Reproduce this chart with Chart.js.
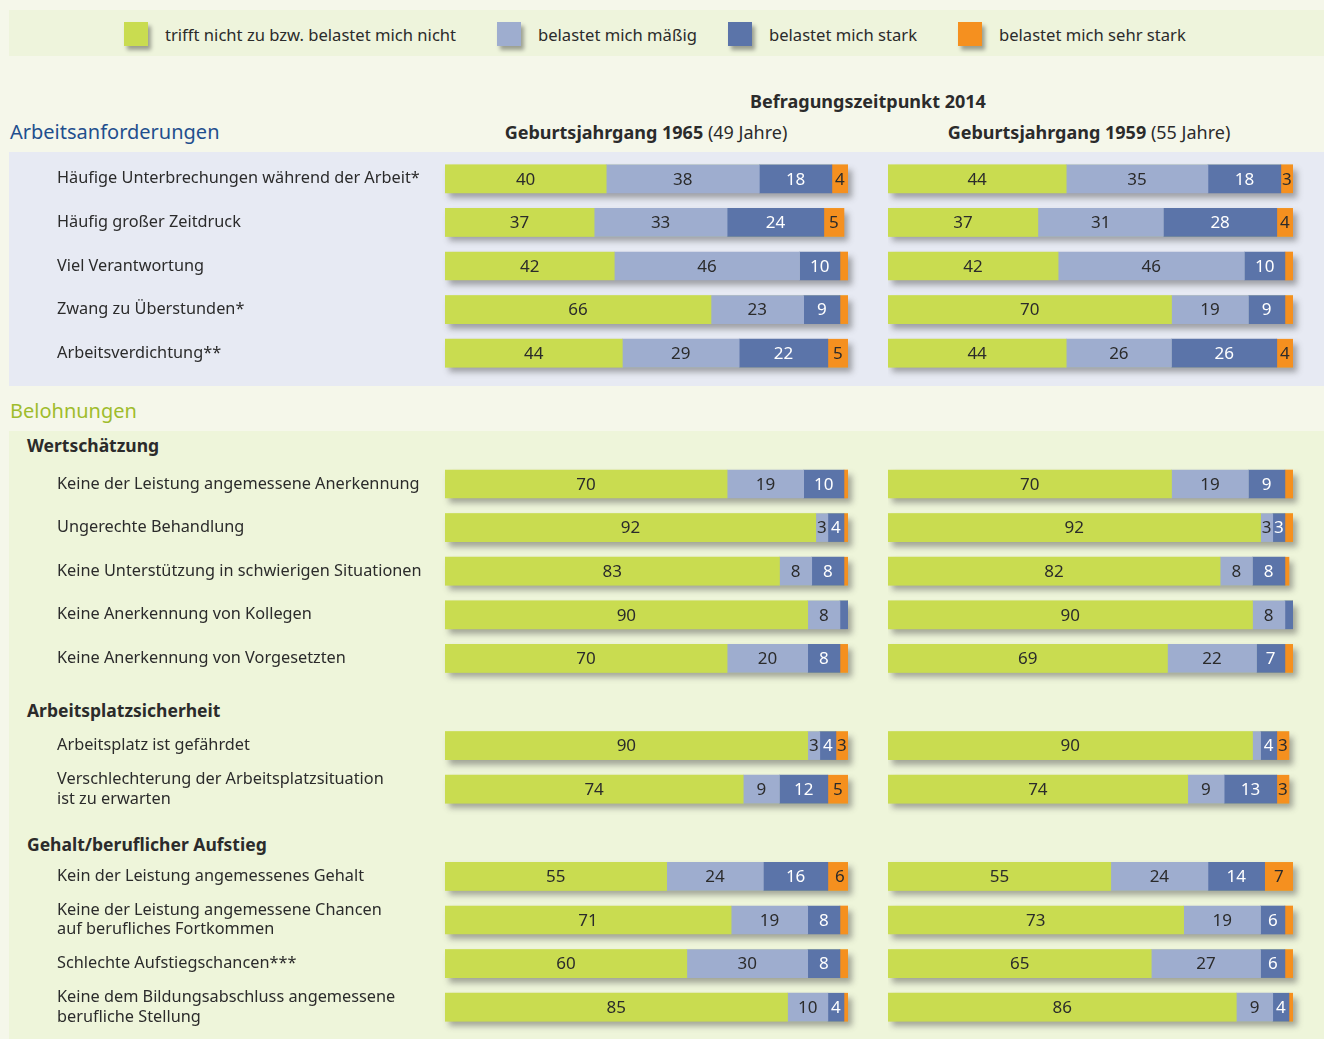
<!DOCTYPE html>
<html>
<head>
<meta charset="utf-8">
<script src="https://cdn.jsdelivr.net/npm/chart.js@4.4.1/dist/chart.umd.min.js"></script>
<style>
  html, body { margin: 0; padding: 0; }
  body { width: 1324px; height: 1039px; background: #f5f7ea; font-family: "Noto Sans", sans-serif; color: #2b2b2b; position: relative; overflow: hidden; }
  .abs { position: absolute; white-space: nowrap; }
  .band { position: absolute; }
  .legend-item { position: absolute; top: 22px; height: 24px; display: flex; align-items: center; font-size: 16.6px; }
  .legend-item span.sw { display: inline-block; width: 24px; height: 24px; box-shadow: 3px 4px 4px rgba(0,0,0,0.35); margin-right: 17px; }
  canvas { position: absolute; }
</style>
</head>
<body>

<div class="band" style="left:9px;top:10px;width:1315px;height:46px;background:#eef4dc;"></div>
<div class="band" style="left:9px;top:152px;width:1315px;height:234px;background:#e7eaf3;"></div>
<div class="band" style="left:9px;top:431px;width:1315px;height:608px;background:#eef5da;"></div>

<div id="legend"></div>

<div class="abs" style="left:868px;top:101px;transform:translate(-50%,-50%);font-size:18px;font-weight:bold;">Befragungszeitpunkt 2014</div>
<div class="abs" style="left:646px;top:132px;transform:translate(-50%,-50%);font-size:18px;"><b>Geburtsjahrgang 1965</b> (49 Jahre)</div>
<div class="abs" style="left:1089px;top:132px;transform:translate(-50%,-50%);font-size:18px;"><b>Geburtsjahrgang 1959</b> (55 Jahre)</div>

<div class="abs" style="left:10px;top:131px;transform:translateY(-50%);font-size:20px;color:#1f4f8e;">Arbeitsanforderungen</div>
<div class="abs" style="left:10px;top:410px;transform:translateY(-50%);font-size:20px;color:#9fbc2c;">Belohnungen</div>
<div class="abs" style="left:27px;top:445px;transform:translateY(-50%);font-size:17.5px;font-weight:bold;">Wertschätzung</div>
<div class="abs" style="left:27px;top:710px;transform:translateY(-50%);font-size:17.5px;font-weight:bold;">Arbeitsplatzsicherheit</div>
<div class="abs" style="left:27px;top:844px;transform:translateY(-50%);font-size:17.5px;font-weight:bold;">Gehalt/beruflicher Aufstieg</div>

<canvas id="chart65" style="left:0px;top:157px;width:860px;height:884px;"></canvas>
<canvas id="chart59" style="left:888px;top:157px;width:417px;height:884px;"></canvas>

<script>
// categories ('' = spacer rows between the groups)
const rowLabels = [
  'Häufige Unterbrechungen während der Arbeit*',
  'Häufig großer Zeitdruck',
  'Viel Verantwortung',
  'Zwang zu Überstunden*',
  'Arbeitsverdichtung**',
  '', '',
  'Keine der Leistung angemessene Anerkennung',
  'Ungerechte Behandlung',
  'Keine Unterstützung in schwierigen Situationen',
  'Keine Anerkennung von Kollegen',
  'Keine Anerkennung von Vorgesetzten',
  '',
  'Arbeitsplatz ist gefährdet',
  ['Verschlechterung der Arbeitsplatzsituation', 'ist zu erwarten'],
  '',
  'Kein der Leistung angemessenes Gehalt',
  ['Keine der Leistung angemessene Chancen', 'auf berufliches Fortkommen'],
  'Schlechte Aufstiegschancen***',
  ['Keine dem Bildungsabschluss angemessene', 'berufliche Stellung']
];

const seriesNames = ['trifft nicht zu bzw. belastet mich nicht', 'belastet mich mäßig', 'belastet mich stark', 'belastet mich sehr stark'];
const seriesColors = ['#c9dc50', '#9eadcf', '#5b74a9', '#f5901f'];
const labelColors = ['#2b2b2b', '#2b2b2b', '#ffffff', '#2b2b2b'];

// Geburtsjahrgang 1965 (49 Jahre)
const nicht65     = [40, 37, 42, 66, 44, null, null, 70, 92, 83, 90, 70, null, 90, 74, null, 55, 71, 60, 85];
const maessig65   = [38, 33, 46, 23, 29, null, null, 19,  3,  8,  8, 20, null,  3,  9, null, 24, 19, 30, 10];
const stark65     = [18, 24, 10,  9, 22, null, null, 10,  4,  8,  2,  8, null,  4, 12, null, 16,  8,  8,  4];
const sehrStark65 = [ 4,  5,  2,  2,  5, null, null,  1,  2,  2,  0,  2, null,  3,  5, null,  6,  2,  2,  1];

// Geburtsjahrgang 1959 (55 Jahre)
const nicht59     = [44, 37, 42, 70, 44, null, null, 70, 92, 82, 90, 69, null, 90, 74, null, 55, 73, 65, 86];
const maessig59   = [35, 31, 46, 19, 26, null, null, 19,  3,  8,  8, 22, null,  2,  9, null, 24, 19, 27,  9];
const stark59     = [18, 28, 10,  9, 26, null, null,  9,  3,  8,  2,  7, null,  4, 13, null, 14,  6,  6,  4];
const sehrStark59 = [ 3,  4,  2,  2,  4, null, null,  2,  2,  1,  0,  2, null,  3,  3, null,  7,  2,  2,  1];

const FONT = '"Noto Sans", sans-serif';

// legend
const legendX = [124, 497, 728, 958];
const legend = document.getElementById('legend');
seriesNames.forEach(function (name, i) {
  const item = document.createElement('div');
  item.className = 'legend-item';
  item.style.left = legendX[i] + 'px';
  item.innerHTML = '<span class="sw" style="background:' + seriesColors[i] + '"></span>' + name;
  legend.appendChild(item);
});

// grey drop shadow behind every whole bar
const barShadow = {
  id: 'barShadow',
  beforeDatasetsDraw(chart) {
    const ctx = chart.ctx;
    const first = chart.getDatasetMeta(0).data;
    const n = chart.data.datasets.length;
    ctx.save();
    ctx.shadowColor = 'rgba(70,70,70,0.45)';
    ctx.shadowBlur = 6;
    ctx.shadowOffsetX = 4;
    ctx.shadowOffsetY = 5;
    ctx.fillStyle = seriesColors[0];
    first.forEach(function (el, i) {
      if (chart.data.datasets[0].data[i] == null) return;
      let right = el.x;
      for (let d = 1; d < n; d++) {
        const e = chart.getDatasetMeta(d).data[i];
        if (e && chart.data.datasets[d].data[i] > 0) right = Math.max(right, e.x);
      }
      right = Math.min(right, chart.chartArea.right);
      const p = el.getProps(['base', 'y', 'height'], true);
      ctx.fillRect(p.base, p.y - p.height / 2, right - p.base, p.height);
    });
    ctx.restore();
  }
};

// numbers inside the segments
const segmentLabels = {
  id: 'segmentLabels',
  afterDatasetsDraw(chart) {
    const ctx = chart.ctx;
    ctx.save();
    ctx.font = '17px ' + FONT;
    ctx.textAlign = 'center';
    ctx.textBaseline = 'middle';
    chart.data.datasets.forEach(function (ds, d) {
      chart.getDatasetMeta(d).data.forEach(function (el, i) {
        const v = ds.data[i];
        if (v == null || v < 3) return;
        const p = el.getProps(['x', 'y', 'base'], true);
        ctx.fillStyle = labelColors[d];
        ctx.fillText(String(v), (p.x + p.base) / 2, p.y + 1);
      });
    });
    ctx.restore();
  }
};

function makeChart(id, values, showLabels) {
  const ctx = document.getElementById(id).getContext('2d');
  return new Chart(ctx, {
    type: 'bar',
    data: {
      labels: rowLabels,
      datasets: values.map(function (arr, i) {
        return {
          label: seriesNames[i],
          data: arr,
          backgroundColor: seriesColors[i],
          borderWidth: 0,
          barThickness: 28
        };
      })
    },
    options: {
      indexAxis: 'y',
      responsive: false,
      animation: false,
      layout: { padding: { left: showLabels ? 57 : 0, right: 12, top: 0, bottom: 12 } },
      plugins: { legend: { display: false }, tooltip: { enabled: false } },
      scales: {
        x: { stacked: true, min: 0, max: 100, display: false },
        y: {
          stacked: true,
          display: showLabels,
          grid: { display: false },
          border: { display: false },
          afterFit: function (scale) {
            scale.width = showLabels ? 388 : 0;
            scale.paddingTop = 0;
            scale.paddingBottom = 0;
          },
          ticks: {
            autoSkip: false,
            crossAlign: 'far',
            padding: 0,
            color: '#2b2b2b',
            font: { family: FONT, size: 16.3 }
          }
        }
      }
    },
    plugins: [barShadow, segmentLabels]
  });
}

// fix canvas pixel size to css size
['chart65', 'chart59'].forEach(function (id) {
  const c = document.getElementById(id);
  c.width = parseInt(c.style.width);
  c.height = parseInt(c.style.height);
});

makeChart('chart65', [nicht65, maessig65, stark65, sehrStark65], true);
makeChart('chart59', [nicht59, maessig59, stark59, sehrStark59], false);
</script>
</body>
</html>
